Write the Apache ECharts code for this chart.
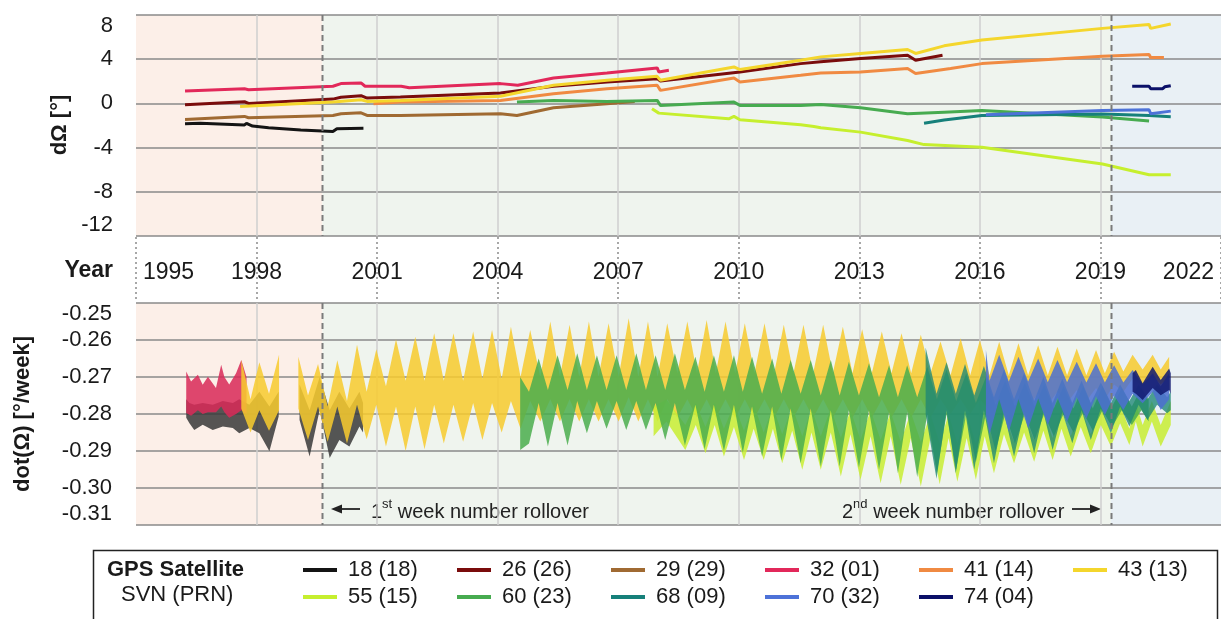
<!DOCTYPE html>
<html><head><meta charset="utf-8">
<script src="https://cdn.jsdelivr.net/npm/echarts@6.0.0/dist/echarts.min.js"></script>
<style>html,body{margin:0;padding:0;background:#fff}#c{width:1221px;height:619px}</style>
</head><body><div id="c"></div>
<script>
// ---------- tick labels / categories ----------
const yearTicks = [1995, 1998, 2001, 2004, 2007, 2010, 2013, 2016, 2019, 2022];
const dOmegaTicks = [-12, -8, -4, 0, 4, 8];
const rateTicks = [-0.31, -0.30, -0.29, -0.28, -0.27, -0.26, -0.25];
const eras = [[1995, 1999.64], [1999.64, 2019.26], [2019.26, 2022]];
const rollovers = [1999.64, 2019.26];
const satNames = ['18 (18)', '26 (26)', '29 (29)', '32 (01)', '41 (14)', '43 (13)', '55 (15)', '60 (23)', '68 (09)', '70 (32)', '74 (04)'];

// ---------- dΩ [°] (top panel): [year, value] ----------
const top18 = [[1996.22,-1.85],[1996.6,-1.8],[1997.7,-1.95],[1997.75,-1.8],[1997.9,-2.05],[1998.3,-2.2],[1999.1,-2.4],[1999.9,-2.55],[2000.0,-2.3],[2000.66,-2.25]];
const top26 = [[1996.22,-0.12],[1997.7,0.15],[1997.8,0.0],[1999.9,0.39],[2000.1,0.55],[2000.6,0.7],[2000.75,0.48],[2001.58,0.58],[2004.07,0.94],[2005.39,1.55],[2006.72,1.94],[2007.97,2.24],[2008.05,2.03],[2010.03,2.85],[2011.54,3.6],[2012.04,3.76],[2013.03,4.06],[2014.2,4.36],[2014.4,3.91],[2015.07,4.36]];
const top29 = [[1996.22,-1.45],[1997.7,-1.18],[1997.8,-1.3],[1999.9,-1.09],[2000.1,-0.94],[2000.6,-0.85],[2000.75,-1.09],[2001.58,-1.09],[2004.07,-0.94],[2004.48,-1.09],[2005.39,-0.39],[2006.72,-0.03],[2007.41,0.18]];
const top32 = [[1996.22,1.12],[1997.7,1.33],[1997.8,1.24],[1999.9,1.55],[2000.1,1.79],[2000.6,1.85],[2000.7,1.55],[2001.6,1.55],[2001.8,1.42],[2004.07,1.79],[2004.5,1.65],[2005.39,2.3],[2006.72,2.76],[2007.97,3.21],[2008.01,2.85],[2008.26,3.0]];
const top41 = [[2000.91,-0.03],[2001.58,0.12],[2004.07,0.27],[2005.39,0.88],[2006.72,1.33],[2007.97,1.64],[2008.05,1.18],[2009.88,2.3],[2010.03,1.94],[2011.54,2.55],[2012.04,2.76],[2013.03,2.85],[2014.2,3.15],[2014.4,2.7],[2015.27,3.15],[2016.05,3.6],[2019.05,4.27],[2020.21,4.42],[2020.25,4.15],[2020.58,4.15]];
const top43 = [[1997.59,-0.27],[1999.9,0.12],[2000.6,0.33],[2000.75,0.18],[2001.58,0.27],[2004.07,0.64],[2005.39,1.64],[2006.72,2.09],[2007.97,2.45],[2008.05,2.09],[2009.88,3.3],[2010.03,3.06],[2011.54,3.91],[2012.04,4.21],[2013.03,4.52],[2014.2,4.88],[2014.4,4.52],[2015.11,5.21],[2016.05,5.73],[2019.05,6.79],[2020.21,7.15],[2020.25,6.79],[2020.75,7.18]];
const top55 = [[2007.84,-0.48],[2008.01,-0.88],[2009.75,-1.39],[2009.88,-1.18],[2010.03,-1.48],[2011.54,-1.94],[2011.87,-2.09],[2012.04,-2.2],[2013.03,-2.6],[2014.2,-3.36],[2014.61,-3.73],[2016.05,-3.97],[2019.05,-5.48],[2020.21,-6.45],[2020.75,-6.45]];
const top60 = [[2004.48,0.12],[2005.39,0.27],[2006.72,0.18],[2007.97,0.27],[2008.05,-0.18],[2009.88,0.12],[2010.03,-0.18],[2011.54,-0.18],[2012.04,-0.09],[2013.03,-0.39],[2014.2,-0.94],[2015.11,-0.79],[2016.05,-0.64],[2019.05,-1.24],[2020.21,-1.6]];
const top68 = [[2014.61,-1.8],[2015.11,-1.5],[2016.05,-1.1],[2019.05,-0.95],[2020.21,-1.1],[2020.75,-1.2]];
const top70 = [[2016.15,-1.03],[2019.05,-0.64],[2020.21,-0.58],[2020.25,-0.94],[2020.75,-0.7]];
const top74 = [[2019.79,1.55],[2020.21,1.55],[2020.25,1.33],[2020.55,1.33],[2020.6,1.5],[2020.75,1.6]];

// ---------- dot(Ω) [°/week] (bottom panel): [year, upper edge, lower edge] of each band ----------
const bot18 = [[1996.25,-0.2760,-0.2810],[1996.33,-0.2770,-0.2825],[1996.45,-0.2775,-0.2843],[1996.66,-0.2770,-0.2829],[1996.91,-0.2775,-0.2843],[1997.16,-0.2765,-0.2834],[1997.41,-0.2770,-0.2838],[1997.57,-0.2760,-0.2852],[1997.82,-0.2775,-0.2838],[1998.07,-0.2740,-0.2852],[1998.32,-0.2780,-0.2901],[1998.55,-0.2740,-0.2807],
  null,
  [1999.07,-0.2720,-0.2816],[1999.32,-0.2790,-0.2915],[1999.57,-0.2700,-0.2789],[1999.82,-0.2790,-0.2919],[2000.06,-0.2740,-0.2870],[2000.31,-0.2785,-0.2888],[2000.56,-0.2740,-0.2834],[2000.65,-0.2770,-0.2850]];
const bot32 = [[1996.25,-0.2685,-0.2797],[1996.37,-0.2712,-0.2805],[1996.54,-0.2694,-0.2790],[1996.66,-0.2721,-0.2800],[1996.79,-0.2699,-0.2795],[1996.99,-0.2730,-0.2795],[1997.12,-0.2667,-0.2780],[1997.20,-0.2700,-0.2795],[1997.32,-0.2720,-0.2810],[1997.49,-0.2690,-0.2800],[1997.62,-0.2654,-0.2790],[1997.75,-0.2700,-0.2800]];
const bot43 = [[1997.62,-0.2655,-0.2785],[1997.85,-0.2760,-0.2850],[1998.07,-0.2660,-0.2790],[1998.31,-0.2745,-0.2845],[1998.56,-0.2640,-0.2790],
  null,
  [1999.04,-0.2645,-0.2785],[1999.28,-0.2750,-0.2870],[1999.53,-0.2665,-0.2780],[1999.77,-0.2780,-0.2875],[2000.01,-0.2655,-0.2780],[2000.25,-0.2765,-0.2880],
  [2000.50,-0.2613,-0.2775],[2000.74,-0.2740,-0.2868],[2000.98,-0.2625,-0.2775],[2001.22,-0.2725,-0.2888],[2001.47,-0.2598,-0.2780],[2001.71,-0.2710,-0.2900],
  [2001.95,-0.2591,-0.2780],[2002.18,-0.2710,-0.2895],[2002.42,-0.2582,-0.2775],[2002.66,-0.2710,-0.2880],[2002.90,-0.2582,-0.2775],[2003.14,-0.2710,-0.2875],
  [2003.39,-0.2577,-0.2770],[2003.62,-0.2705,-0.2870],[2003.86,-0.2573,-0.2770],[2004.10,-0.2705,-0.2850],[2004.33,-0.2564,-0.2765],[2004.57,-0.2700,-0.2840],
  [2004.81,-0.2573,-0.2765],[2005.06,-0.2700,-0.2820],[2005.31,-0.2550,-0.2760],[2005.55,-0.2700,-0.2820],[2005.79,-0.2559,-0.2760],[2006.03,-0.2700,-0.2820],
  [2006.27,-0.2550,-0.2760],[2006.51,-0.2700,-0.2820],[2006.76,-0.2555,-0.2760],[2007.01,-0.2700,-0.2820],[2007.26,-0.2541,-0.2755],[2007.50,-0.2700,-0.2820],
  [2007.74,-0.2550,-0.2760],[2007.98,-0.2700,-0.2820],[2008.22,-0.2555,-0.2760],[2008.47,-0.2690,-0.2810],[2008.72,-0.2550,-0.2760],[2008.96,-0.2690,-0.2810],
  [2009.20,-0.2546,-0.2760],[2009.43,-0.2690,-0.2810],[2009.67,-0.2550,-0.2760],[2009.91,-0.2690,-0.2810],[2010.15,-0.2555,-0.2760],[2010.39,-0.2690,-0.2810],
  [2010.64,-0.2555,-0.2760],[2010.88,-0.2690,-0.2810],[2011.12,-0.2559,-0.2760],[2011.36,-0.2690,-0.2810],[2011.61,-0.2559,-0.2760],[2011.85,-0.2690,-0.2810],
  [2012.10,-0.2559,-0.2760],[2012.34,-0.2690,-0.2810],[2012.59,-0.2564,-0.2760],[2012.83,-0.2690,-0.2810],[2013.07,-0.2571,-0.2760],[2013.31,-0.2690,-0.2810],
  [2013.56,-0.2577,-0.2760],[2013.80,-0.2690,-0.2810],[2014.05,-0.2582,-0.2760],[2014.29,-0.2690,-0.2810],[2014.53,-0.2586,-0.2760],[2014.77,-0.2690,-0.2810],
  [2015.02,-0.2604,-0.2760],[2015.27,-0.2695,-0.2800],[2015.52,-0.2595,-0.2760],[2015.76,-0.2695,-0.2800],[2016.00,-0.2600,-0.2760],[2016.24,-0.2695,-0.2790],
  [2016.48,-0.2605,-0.2755],[2016.72,-0.2695,-0.2785],[2016.96,-0.2609,-0.2750],[2017.20,-0.2695,-0.2780],[2017.45,-0.2614,-0.2745],[2017.69,-0.2695,-0.2775],
  [2017.93,-0.2618,-0.2740],[2018.17,-0.2695,-0.2770],[2018.41,-0.2623,-0.2735],[2018.65,-0.2695,-0.2765],[2018.89,-0.2627,-0.2730],[2019.11,-0.2690,-0.2760],
  [2019.34,-0.2632,-0.2720],[2019.57,-0.2685,-0.2740],[2019.80,-0.2640,-0.2705],[2020.05,-0.2680,-0.2725],[2020.30,-0.2640,-0.2700],[2020.50,-0.2680,-0.2720],
  [2020.71,-0.2645,-0.2700]];
const bot55 = [[2007.88,-0.2780,-0.2860],[2008.20,-0.2760,-0.2820],[2008.67,-0.2830,-0.2897],[2008.93,-0.2770,-0.2830],[2009.17,-0.2835,-0.2906],[2009.40,-0.2770,-0.2830],
  [2009.63,-0.2840,-0.2915],[2009.88,-0.2775,-0.2835],[2010.13,-0.2845,-0.2924],[2010.37,-0.2775,-0.2840],[2010.62,-0.2850,-0.2924],[2010.85,-0.2780,-0.2840],
  [2011.08,-0.2855,-0.2933],[2011.33,-0.2780,-0.2845],[2011.58,-0.2860,-0.2951],[2011.81,-0.2785,-0.2850],[2012.04,-0.2860,-0.2951],[2012.29,-0.2785,-0.2850],
  [2012.54,-0.2865,-0.2969],[2012.78,-0.2790,-0.2855],[2013.03,-0.2870,-0.2978],[2013.28,-0.2790,-0.2860],[2013.53,-0.2870,-0.2987],[2013.78,-0.2795,-0.2860],
  [2014.03,-0.2875,-0.2991],[2014.28,-0.2795,-0.2865],[2014.53,-0.2875,-0.2996],[2014.77,-0.2800,-0.2865],[2015.00,-0.2880,-0.2990],[2015.22,-0.2800,-0.2865],
  [2015.44,-0.2880,-0.2983],[2015.67,-0.2800,-0.2865],[2015.90,-0.2880,-0.2978],[2016.12,-0.2800,-0.2860],[2016.35,-0.2880,-0.2960],[2016.60,-0.2800,-0.2855],
  [2016.85,-0.2875,-0.2933],[2017.10,-0.2800,-0.2850],[2017.35,-0.2870,-0.2929],[2017.58,-0.2795,-0.2845],[2017.81,-0.2865,-0.2924],[2018.03,-0.2790,-0.2840],
  [2018.26,-0.2860,-0.2915],[2018.51,-0.2785,-0.2835],[2018.76,-0.2855,-0.2906],[2019.01,-0.2780,-0.2830],[2019.26,-0.2850,-0.2888],[2019.49,-0.2775,-0.2825],
  [2019.72,-0.2840,-0.2884],[2019.88,-0.2770,-0.2820],[2020.05,-0.2830,-0.2888],[2020.28,-0.2765,-0.2820],[2020.50,-0.2830,-0.2888],[2020.75,-0.2765,-0.2830]];
const bot60 = [[2004.56,-0.2700,-0.2897],[2004.78,-0.2740,-0.2880],[2005.02,-0.2650,-0.2770],[2005.25,-0.2735,-0.2888],[2005.49,-0.2641,-0.2770],[2005.74,-0.2735,-0.2885],
  [2005.98,-0.2636,-0.2765],[2006.22,-0.2735,-0.2852],[2006.47,-0.2641,-0.2765],[2006.71,-0.2735,-0.2840],[2006.96,-0.2641,-0.2765],[2007.20,-0.2735,-0.2843],
  [2007.45,-0.2636,-0.2765],[2007.69,-0.2735,-0.2843],[2007.93,-0.2641,-0.2770],[2008.17,-0.2735,-0.2870],[2008.41,-0.2636,-0.2770],[2008.66,-0.2735,-0.2885],
  [2008.92,-0.2645,-0.2775],[2009.15,-0.2740,-0.2895],[2009.38,-0.2641,-0.2775],[2009.63,-0.2740,-0.2900],[2009.88,-0.2641,-0.2775],[2010.10,-0.2740,-0.2905],
  [2010.33,-0.2645,-0.2780],[2010.58,-0.2745,-0.2915],[2010.83,-0.2650,-0.2780],[2011.06,-0.2745,-0.2925],[2011.29,-0.2654,-0.2785],[2011.54,-0.2745,-0.2933],
  [2011.79,-0.2654,-0.2785],[2012.04,-0.2750,-0.2942],[2012.29,-0.2654,-0.2790],[2012.51,-0.2750,-0.2942],[2012.74,-0.2659,-0.2790],[2012.99,-0.2750,-0.2945],
  [2013.24,-0.2663,-0.2790],[2013.49,-0.2755,-0.2951],[2013.74,-0.2668,-0.2795],[2013.96,-0.2755,-0.2960],[2014.19,-0.2668,-0.2795],[2014.44,-0.2755,-0.2970],
  [2014.69,-0.2672,-0.2800],[2014.93,-0.2760,-0.2960],[2015.17,-0.2680,-0.2800],[2015.41,-0.2765,-0.2950],[2015.66,-0.2690,-0.2800],[2015.90,-0.2770,-0.2930],
  [2016.15,-0.2700,-0.2800],[2016.39,-0.2775,-0.2900],[2016.63,-0.2710,-0.2800],[2016.87,-0.2780,-0.2880],[2017.12,-0.2715,-0.2800],[2017.36,-0.2780,-0.2870],
  [2017.60,-0.2720,-0.2800],[2017.84,-0.2785,-0.2860],[2018.08,-0.2725,-0.2800],[2018.33,-0.2785,-0.2850],[2018.57,-0.2725,-0.2795],[2018.81,-0.2785,-0.2845],
  [2019.05,-0.2725,-0.2790],[2019.29,-0.2780,-0.2835],[2019.53,-0.2730,-0.2790],[2019.78,-0.2780,-0.2830],[2020.02,-0.2730,-0.2790],[2020.20,-0.2760,-0.2820]];
const bot68 = [[2014.65,-0.2620,-0.2800],[2014.92,-0.2745,-0.2975],[2015.17,-0.2660,-0.2790],[2015.40,-0.2745,-0.2960],[2015.63,-0.2665,-0.2790],[2015.86,-0.2750,-0.2951],
  [2016.10,-0.2670,-0.2790],[2016.35,-0.2755,-0.2933],[2016.60,-0.2680,-0.2795],[2016.85,-0.2760,-0.2915],[2017.10,-0.2690,-0.2795],[2017.35,-0.2765,-0.2906],
  [2017.58,-0.2700,-0.2795],[2017.81,-0.2770,-0.2897],[2018.05,-0.2705,-0.2795],[2018.30,-0.2770,-0.2879],[2018.53,-0.2710,-0.2790],[2018.76,-0.2770,-0.2870],
  [2019.01,-0.2715,-0.2785],[2019.26,-0.2770,-0.2852],[2019.49,-0.2720,-0.2780],[2019.72,-0.2765,-0.2834],[2019.95,-0.2720,-0.2775],[2020.17,-0.2760,-0.2816],
  [2020.41,-0.2720,-0.2775],[2020.66,-0.2755,-0.2798],[2020.75,-0.2740,-0.2790]];
const bot70 = [[2016.15,-0.2627,-0.2800],[2016.24,-0.2710,-0.2855],[2016.48,-0.2640,-0.2760],[2016.72,-0.2712,-0.2848],[2016.96,-0.2645,-0.2760],[2017.20,-0.2712,-0.2839],
  [2017.45,-0.2650,-0.2758],[2017.69,-0.2714,-0.2830],[2017.93,-0.2654,-0.2756],[2018.17,-0.2714,-0.2821],[2018.41,-0.2659,-0.2754],[2018.65,-0.2715,-0.2812],
  [2018.89,-0.2663,-0.2752],[2019.11,-0.2715,-0.2803],[2019.34,-0.2668,-0.2750],[2019.57,-0.2715,-0.2789],[2019.80,-0.2681,-0.2745],[2020.05,-0.2720,-0.2771],
  [2020.30,-0.2690,-0.2740],[2020.50,-0.2725,-0.2789],[2020.71,-0.2690,-0.2760]];
const bot74 = [[2019.80,-0.2690,-0.2740],[2019.88,-0.2681,-0.2745],[2020.05,-0.2717,-0.2762],[2020.30,-0.2672,-0.2730],[2020.50,-0.2708,-0.2749],[2020.71,-0.2677,-0.2735],[2020.75,-0.2690,-0.2745]];

// ---------- styling ----------
const FONT = '"Liberation Sans", Arial, Helvetica, sans-serif';
const satColors = {
  '18 (18)': '#141414', '26 (26)': '#7a0c0c', '29 (29)': '#a06a32', '32 (01)': '#e2285a',
  '41 (14)': '#f08a42', '43 (13)': '#f4d62c', '55 (15)': '#c6ef2e', '60 (23)': '#47ab50',
  '68 (09)': '#16807a', '70 (32)': '#4d72d8', '74 (04)': '#0b1068'
};
const bandColors = {
  '18 (18)': '#3a3a3a', '32 (01)': '#d92a58', '43 (13)': '#f7cb2e', '55 (15)': '#c8ee33',
  '60 (23)': '#4cae4e', '68 (09)': '#1d8774', '70 (32)': '#4d70d0', '74 (04)': '#121a70'
};
const bandOpacity = { '68 (09)': 0.78 };
const eraColors = ['#fcefe8', '#eff4ee', '#e9f0f5'];
const GRID_H = '#8a8a8a', GRID_V = '#cfcfcf', TXT = '#1a1a1a';

const topData = { '18 (18)': top18, '26 (26)': top26, '29 (29)': top29, '32 (01)': top32, '41 (14)': top41,
  '43 (13)': top43, '55 (15)': top55, '60 (23)': top60, '68 (09)': top68, '70 (32)': top70, '74 (04)': top74 };
const bandOrder = [['18 (18)', bot18], ['32 (01)', bot32], ['43 (13)', bot43], ['55 (15)', bot55],
  ['60 (23)', bot60], ['68 (09)', bot68], ['70 (32)', bot70], ['74 (04)', bot74]];

function bgSeries(gi) {
  return {
    type: 'custom', xAxisIndex: gi, yAxisIndex: gi, z: -10, silent: true, clip: true,
    data: eras,
    renderItem: (params, api) => {
      const cs = params.coordSys;
      const x0 = api.coord([api.value(0), 0])[0];
      const x1 = api.coord([api.value(1), 0])[0];
      return { type: 'rect', shape: { x: x0, y: cs.y, width: x1 - x0, height: cs.height },
        style: { fill: eraColors[params.dataIndex] } };
    }
  };
}
function rollSeries(gi) {
  return {
    type: 'custom', xAxisIndex: gi, yAxisIndex: gi, z: 10, silent: true, clip: false,
    data: rollovers.map(v => [v, 0]),
    renderItem: (params, api) => {
      const cs = params.coordSys;
      const x = Math.round(api.coord([api.value(0), 0])[0]) + 0.5;
      return { type: 'line', shape: { x1: x, y1: cs.y, x2: x, y2: cs.y + cs.height },
        style: { stroke: '#7a7a7a', lineWidth: 2, lineDash: [6, 4] } };
    }
  };
}
function bandSeries(name, pts) {
  const color = bandColors[name];
  const op = bandOpacity[name] || 0.86;
  const segs = []; let cur = [];
  pts.forEach(p => { if (p === null) { if (cur.length) segs.push(cur); cur = []; } else cur.push(p); });
  if (cur.length) segs.push(cur);
  return {
    type: 'custom', name, xAxisIndex: 1, yAxisIndex: 1, z: 3, silent: true, clip: true,
    itemStyle: { color: satColors[name] },
    data: pts.filter(p => p !== null),
    encode: { x: 0, y: [1, 2] },
    renderItem: (params, api) => {
      if (params.dataIndex !== 0) return null;
      return {
        type: 'group',
        children: segs.map(s => {
          const upper = s.map(p => api.coord([p[0], p[1]]));
          const lower = s.slice().reverse().map(p => api.coord([p[0], p[2]]));
          return { type: 'polygon', shape: { points: upper.concat(lower) },
            style: { fill: color, opacity: op } };
        })
      };
    }
  };
}

const series = [bgSeries(0), bgSeries(1)];
satNames.forEach(n => {
  series.push({
    type: 'line', name: n, xAxisIndex: 0, yAxisIndex: 0, data: topData[n],
    showSymbol: false, symbol: 'none', z: 4, silent: true, animation: false,
    color: satColors[n], itemStyle: { color: satColors[n] },
    lineStyle: { width: 3, color: satColors[n] }
  });
});
bandOrder.forEach(([n, pts]) => series.push(bandSeries(n, pts)));
series.push(rollSeries(0), rollSeries(1));

const xCommon = {
  type: 'value', min: 1995, max: 2022, interval: 3,
  axisLine: { show: false }, axisTick: { show: false }, axisLabel: { show: false },
  splitLine: { show: true, showMinLine: false, showMaxLine: false, lineStyle: { color: GRID_V, width: 1.5 } }
};
const legendCommon = {
  left: 303, width: 930, orient: 'horizontal',
  itemWidth: 34, itemHeight: 4, itemGap: 9, icon: 'rect', padding: 0, selectedMode: false,
  textStyle: { fontSize: 22, color: TXT, width: 100, lineHeight: 18, padding: [0, 0, 0, 6], fontFamily: FONT }
};

const option = {
  animation: false,
  backgroundColor: '#ffffff',
  textStyle: { fontFamily: FONT },
  grid: [
    { left: 136, right: 0, top: 15, height: 221, outerBoundsMode: 'none', containLabel: false },
    { left: 136, right: 0, top: 303, height: 222, outerBoundsMode: 'none', containLabel: false },
    { left: 136, right: 0, top: 237, height: 63, outerBoundsMode: 'none', containLabel: false }
  ],
  xAxis: [
    Object.assign({ gridIndex: 0 }, xCommon),
    Object.assign({ gridIndex: 1 }, xCommon),
    {
      gridIndex: 2, type: 'value', min: yearTicks[0], max: yearTicks[yearTicks.length - 1], interval: 3,
      axisLine: { show: false }, axisTick: { show: false },
      splitLine: { show: true, lineStyle: { color: '#8a8a8a', width: 1.5, type: [2, 3] } },
      axisLabel: { show: true, inside: true, margin: 16, fontSize: 23, color: TXT, fontFamily: FONT,
        alignMinLabel: 'left', alignMaxLabel: 'right', padding: [0, 7, 0, 7],
        formatter: v => String(Math.round(v)) }
    }
  ],
  yAxis: [
    {
      gridIndex: 0, type: 'value', min: dOmegaTicks[0], max: dOmegaTicks[dOmegaTicks.length - 1], interval: 4,
      axisLine: { show: false }, axisTick: { show: false },
      axisLabel: { fontSize: 22, color: TXT, margin: 23, fontFamily: FONT,
        verticalAlignMinLabel: 'bottom', verticalAlignMaxLabel: 'top' },
      splitLine: { show: true, lineStyle: { color: GRID_H, width: 1.5 } }
    },
    {
      gridIndex: 1, type: 'value', min: rateTicks[0], max: rateTicks[rateTicks.length - 1], interval: 0.01,
      axisLine: { show: false }, axisTick: { show: false },
      axisLabel: { fontSize: 22, color: TXT, margin: 24, fontFamily: FONT,
        verticalAlignMinLabel: 'bottom', verticalAlignMaxLabel: 'top',
        formatter: v => v.toFixed(2) },
      splitLine: { show: true, lineStyle: { color: GRID_H, width: 1.5 } }
    },
    { gridIndex: 2, type: 'value', min: 0, max: 1, show: false, splitLine: { show: false } }
  ],
  legend: [
    Object.assign({ data: satNames.slice(0, 6), top: 559 }, legendCommon),
    Object.assign({ data: satNames.slice(6), top: 586 }, legendCommon)
  ],
  graphic: [
    // axis titles
    { type: 'text', x: 60, y: 125, rotation: Math.PI / 2,
      style: { text: 'dΩ [°]', font: 'bold 22px ' + FONT, fill: TXT, align: 'center', verticalAlign: 'middle' } },
    { type: 'text', x: 23, y: 414, rotation: Math.PI / 2,
      style: { text: 'dot(Ω) [°/week]', font: 'bold 22px ' + FONT, fill: TXT, align: 'center', verticalAlign: 'middle' } },
    { type: 'text', x: 113, y: 271,
      style: { text: 'Year', font: 'bold 23px ' + FONT, fill: TXT, align: 'right', verticalAlign: 'middle' } },
    // week-number rollover annotations
    { type: 'line', shape: { x1: 334, y1: 509, x2: 360, y2: 509 }, style: { stroke: '#222', lineWidth: 1.8 } },
    { type: 'polygon', shape: { points: [[331, 509], [342, 504.5], [342, 513.5]] }, style: { fill: '#222' } },
    { type: 'text', x: 371, y: 510,
      style: { text: '{n|1}{s|st}{n| week number rollover}', verticalAlign: 'middle', fill: '#222',
        rich: { n: { fontSize: 20, lineHeight: 24, verticalAlign: 'bottom', fontFamily: FONT, fill: '#222' },
                s: { fontSize: 13, lineHeight: 14, verticalAlign: 'top', fontFamily: FONT, fill: '#222' } } } },
    { type: 'text', x: 842, y: 510,
      style: { text: '{n|2}{s|nd}{n| week number rollover}', verticalAlign: 'middle', fill: '#222',
        rich: { n: { fontSize: 20, lineHeight: 24, verticalAlign: 'bottom', fontFamily: FONT, fill: '#222' },
                s: { fontSize: 13, lineHeight: 14, verticalAlign: 'top', fontFamily: FONT, fill: '#222' } } } },
    { type: 'line', shape: { x1: 1072, y1: 509, x2: 1098, y2: 509 }, style: { stroke: '#222', lineWidth: 1.8 } },
    { type: 'polygon', shape: { points: [[1101, 509], [1090, 504.5], [1090, 513.5]] }, style: { fill: '#222' } },
    // legend frame and titles
    { type: 'rect', shape: { x: 93.5, y: 550.5, width: 1124, height: 120 }, style: { fill: 'none', stroke: '#222', lineWidth: 1.5 }, z: 0 },
    { type: 'text', x: 107, y: 570,
      style: { text: 'GPS Satellite', font: 'bold 22px ' + FONT, fill: TXT, verticalAlign: 'middle' } },
    { type: 'text', x: 121, y: 595,
      style: { text: 'SVN (PRN)', font: '22px ' + FONT, fill: TXT, verticalAlign: 'middle' } }
  ],
  series
};

const chart = echarts.init(document.getElementById('c'), null, { renderer: 'canvas' });
chart.setOption(option);
</script></body></html>
